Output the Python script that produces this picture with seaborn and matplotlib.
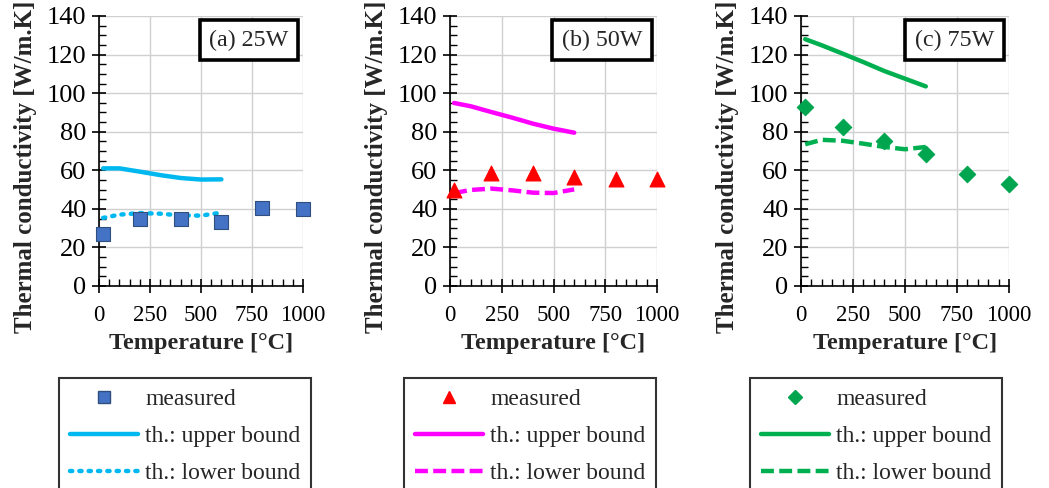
import numpy as np
import pandas as pd
import matplotlib
matplotlib.use("Agg")
import matplotlib.pyplot as plt
from matplotlib.ticker import MultipleLocator
from matplotlib.lines import Line2D
import seaborn as sns

# ---- data ----
temps_meas = [20, 200, 400, 600, 800, 1000]
temps_th = [20, 100, 200, 300, 400, 500, 600]

meas_25 = [27.2, 34.5, 35.0, 33.3, 40.6, 40.0]
upper_25 = [61.0, 61.0, 59.3, 57.5, 56.0, 55.2, 55.3]
lower_25 = [35.3, 37.0, 37.8, 37.5, 36.6, 36.5, 38.0]

meas_50 = [49.6, 58.8, 58.4, 56.6, 55.4, 55.4]
upper_50 = [94.9, 93.2, 90.2, 87.3, 84.2, 81.6, 79.5]
lower_50 = [48.2, 49.8, 50.5, 49.6, 48.4, 48.2, 50.1]

meas_75 = [93.0, 82.2, 75.2, 68.2, 58.0, 52.8]
upper_75 = [128.0, 124.8, 120.5, 116.1, 111.5, 107.5, 103.5]
lower_75 = [73.5, 75.8, 75.3, 73.8, 72.1, 70.9, 72.1]

panel_titles = ["(a) 25W", "(b) 50W", "(c) 75W"]
x_label = "Temperature [°C]"
y_label = "Thermal conductivity [W/m.K]"
legend_labels = ["measured", "th.: upper bound", "th.: lower bound"]

panels = [
    dict(meas=meas_25, up=upper_25, lo=lower_25, mcolor="#4472C4", medge="#2F4F7F",
         marker="s", msize=115, lcolor="#00B8F0", ls=(0, (0.5, 1.6)), dash_cap="round"),
    dict(meas=meas_50, up=upper_50, lo=lower_50, mcolor="#FF0000", medge="#FF0000",
         marker="^", msize=115, lcolor="#FF00FF", ls=(0, (2.9, 1.2)), dash_cap="butt"),
    dict(meas=meas_75, up=upper_75, lo=lower_75, mcolor="#00A550", medge="#00A550",
         marker="D", msize=70, lcolor="#00B050", ls=(0, (2.9, 1.2)), dash_cap="butt"),
]

sns.set_theme(style="ticks")
plt.rcParams["font.family"] = ["Liberation Serif", "DejaVu Serif"]
plt.rcParams["mathtext.fontset"] = "stix"

W, H = 1049, 488
fig = plt.figure(figsize=(W / 100, H / 100), dpi=100)

ax_lefts = [99, 450, 801]
ax_widths = [204, 207, 208]
legend_lefts = [59, 404, 750]
top_px, bottom_px = 16, 286

lw = 3.2
for i, p in enumerate(panels):
    ax = fig.add_axes([ax_lefts[i] / W, 1 - bottom_px / H, ax_widths[i] / W, (bottom_px - top_px) / H])
    dfm = pd.DataFrame({"T": temps_meas, "k": p["meas"]})
    dft = pd.DataFrame({"T": temps_th, "up": p["up"], "lo": p["lo"]})

    ax.grid(True, which="major", color="#d0d0d0", lw=1.0, zorder=0)
    ax.set_axisbelow(True)

    sns.lineplot(data=dft, x="T", y="up", ax=ax, color=p["lcolor"], lw=lw,
                 solid_capstyle="round", zorder=3)
    sns.lineplot(data=dft, x="T", y="lo", ax=ax, color=p["lcolor"], lw=lw,
                 linestyle=p["ls"], dash_capstyle=p["dash_cap"], zorder=3)
    sns.scatterplot(data=dfm, x="T", y="k", ax=ax, color=p["mcolor"], marker=p["marker"],
                    s=p["msize"], edgecolor=p["medge"], linewidth=0.8, zorder=4, clip_on=False)

    ax.set_xlim(0, 1000)
    ax.set_ylim(0, 140)
    ax.xaxis.set_major_locator(MultipleLocator(250))
    ax.xaxis.set_minor_locator(MultipleLocator(50))
    ax.yaxis.set_major_locator(MultipleLocator(20))
    ax.yaxis.set_minor_locator(MultipleLocator(5))
    ax.tick_params(which="major", direction="inout", length=10, width=1.2, color="black",
                   labelcolor="black")
    ax.tick_params(axis="y", which="major", labelsize=19, pad=4)
    ax.tick_params(axis="x", which="major", labelsize=16.5, pad=9)
    ax.tick_params(which="minor", direction="in", length=5, width=1.0, color="black")
    for s in ["top", "right"]:
        ax.spines[s].set_visible(False)
    for s in ["left", "bottom"]:
        ax.spines[s].set_color("black")
        ax.spines[s].set_linewidth(1.2)

    ax.set_xlabel(x_label, fontsize=17.5, fontweight="bold", labelpad=5)
    ax.set_ylabel(y_label, fontsize=18, fontweight="bold")
    ax.yaxis.set_label_coords(-62 / ax_widths[i], 0.44)

    ax.text(0.929, 0.950, panel_titles[i], transform=ax.transAxes, ha="right", va="top",
            fontsize=17.3, zorder=6,
            bbox=dict(boxstyle="square,pad=0.4", facecolor="white", edgecolor="black", linewidth=2.6))

    handles = [
        Line2D([], [], linestyle="none", marker=p["marker"], color=p["mcolor"],
               markeredgecolor=p["medge"], markersize=9 if p["marker"] != "D" else 7),
        Line2D([], [], color=p["lcolor"], lw=lw, solid_capstyle="round"),
        Line2D([], [], color=p["lcolor"], lw=lw, linestyle=p["ls"], dash_capstyle=p["dash_cap"]),
    ]
    leg = fig.legend(handles, legend_labels, loc="upper left",
                     bbox_to_anchor=(legend_lefts[i] / W, 1 - 378 / H),
                     fontsize=17, frameon=True, fancybox=False, edgecolor="black",
                     handlelength=2.9, handletextpad=0.3, labelspacing=0.65,
                     borderpad=0.45, borderaxespad=0)
    leg.get_frame().set_linewidth(1.5)

fig.savefig("out.png", dpi=100)
